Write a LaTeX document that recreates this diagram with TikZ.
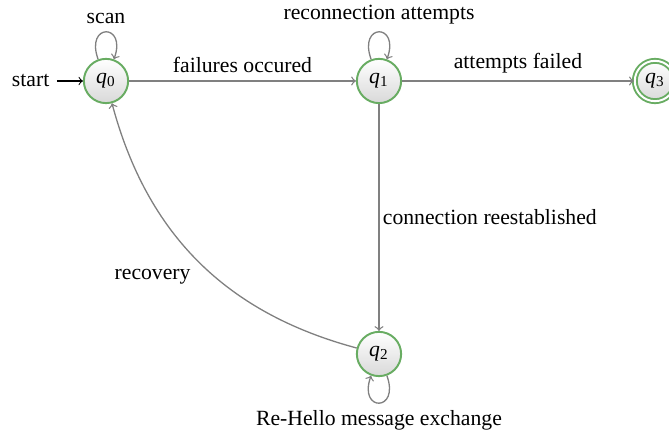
\documentclass[tikz,border=0pt]{standalone}
\usepackage{fontspec}
\setmainfont{Liberation Serif}
\usetikzlibrary{arrows, positioning}

\definecolor{stategreen}{RGB}{104,172,98}

\begin{document}
\begin{tikzpicture}[
    x=0.461pt, y=0.461pt,
    auto,
    state node/.style={circle,draw=stategreen,line width=0.9pt,top color=white,bottom color=black!15,
        minimum size=20.4pt,inner sep=0pt,text height=4.6pt,text depth=2.2pt},
    accept node/.style={state node,minimum size=18.6pt,double=white,double distance=0.9pt},
    arrow/.style={->,>=to,draw=black!50,line width=0.6pt},
    start arrow/.style={->,>=to,line width=0.5pt},
    self loop/.style={loop,looseness=6.3}
]

\useasboundingbox (0,0) rectangle (669,-437);

\node[state node] (q0) at (106,-81) {\textit{q}\textsubscript{0}};
\node[state node] (q1) at (379,-81) {\textit{q}\textsubscript{1}};
\node[state node] (q2) at (379,-354) {\textit{q}\textsubscript{2}};
\node[accept node] (q3) at (655,-81) {\textit{q}\textsubscript{3}};
\node[anchor=east] (start) at (57,-81) {start};

\draw[start arrow] (start) -- (q0);
\draw[arrow] (q0) to[self loop,out=110,in=70] node {scan} (q0);
\draw[arrow] (q0) -- node {failures occured} (q1);
\draw[arrow] (q1) to[self loop,out=110,in=70] node {reconnection attempts} (q1);
\draw[arrow] (q1) -- node {attempts failed} (q3);
\draw[arrow] (q1) -- node[inner sep=1.5pt] {connection reestablished} (q2);
\draw[arrow] (q2) to[self loop,out=-70,in=-110] node {Re-Hello message exchange} (q2);
\draw[arrow] (q2) to[bend left] node {recovery} (q0);

\end{tikzpicture}
\end{document}
